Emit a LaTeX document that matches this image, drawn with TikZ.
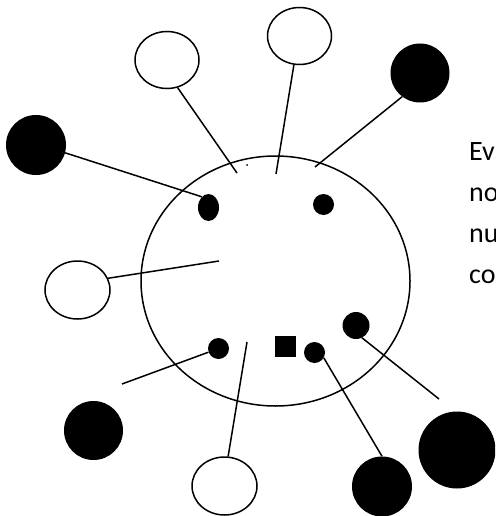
\documentclass[tikz,border=0pt]{standalone}
\usepackage{fontspec}
\setmainfont{Carlito}
\usetikzlibrary{shapes.geometric}
\begin{document}
\begin{tikzpicture}[x=1pt,y=-1pt,
  ln/.style={line width=1.5pt},
  wov/.style={ellipse,draw,line width=1.5pt,inner sep=0pt,minimum width=#1},
  bov/.style={ellipse,fill=black,inner sep=0pt,minimum width=#1},
  lbl/.style={anchor=base west,inner sep=0pt,font=\fontsize{28}{34}\selectfont}]
\useasboundingbox (0,0) rectangle (495,516);
\clip (0,0) rectangle (495,516);
% main body
\node[wov=269pt,minimum height=250pt] (body) at (275.5,281) {};
% outer heads
\node[wov=64pt,minimum height=57pt] (tlw) at (167,60) {};
\node[wov=64pt,minimum height=57pt] (tmw) at (299.5,36) {};
\node[bov=59pt,minimum height=59pt] (trb) at (420,73) {};
\node[bov=60pt,minimum height=60pt] (lb) at (36,145) {};
\node[wov=65pt,minimum height=58pt] (lw) at (77.5,290) {};
\node[bov=59pt,minimum height=59pt] (blb) at (93.5,430.5) {};
\node[wov=65pt,minimum height=58pt] (bw) at (224.5,486) {};
\node[bov=60pt,minimum height=60pt] (brb) at (382,486.5) {};
\node[bov=77pt,minimum height=77pt] (frb) at (457,450) {};
% inner spots
\node[bov=21pt,minimum height=27pt] (ie1) at (208.5,207.5) {};
\node[bov=21pt,minimum height=21pt] (ic2) at (323.5,204.5) {};
\node[bov=21pt,minimum height=21pt] (ic3) at (218.5,348.5) {};
\node[bov=21pt,minimum height=21pt] (ic4) at (314.5,352.5) {};
\node[bov=27pt,minimum height=27pt] (ic5) at (356,325.5) {};
\node[rectangle,fill=black,inner sep=0pt,minimum size=21pt] (sq) at (285.5,346.5) {};
\node[circle,fill=black,inner sep=0pt,minimum size=2pt] (dot) at (247,165) {};
% free ends
\coordinate (c1) at (237,173);
\coordinate (c2) at (276,174);
\coordinate (c3) at (315,167);
\coordinate (c5) at (219,261);
\coordinate (c6) at (122,384);
\coordinate (c7) at (247,342);
\coordinate (c9) at (439,399);
% connectors
\draw[ln] (tlw.-69) -- (c1);
\draw[ln] (tmw.-101) -- (c2);
\draw[ln] (trb.-127) -- (c3);
\draw[ln] (lb.-15) -- (ie1.122);
\draw[ln] (lw.21) -- (c5);
\draw[ln] (ic3) -- (c6);
\draw[ln] (c7) -- (bw.83);
\draw[ln] (ic4.-30) -- (brb.90);
\draw[ln] (ic5.-64) -- (c9);
% text
\node[lbl] (t1) at (469,160) {Ev};
\node[lbl] (t2) at (469,201) {no};
\node[lbl] (t3) at (469,242) {nu};
\node[lbl] (t4) at (469,283) {co};
\end{tikzpicture}
\end{document}
